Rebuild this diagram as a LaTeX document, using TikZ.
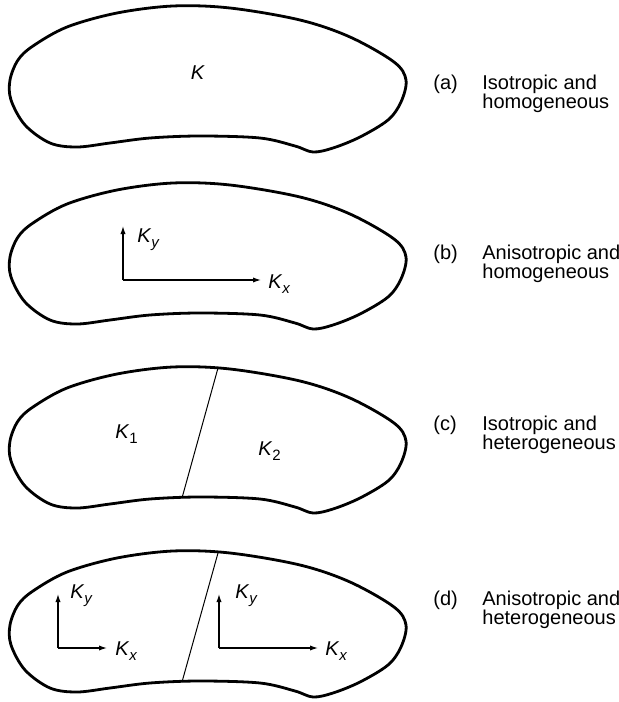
\documentclass[tikz,border=0pt]{standalone}
\usepackage{fontspec}
\setmainfont{Liberation Sans}
\usetikzlibrary{arrows.meta}
\tikzset{
  outline/.style={line width=1.4pt, line join=round},
  split/.style={line width=0.5pt},
  kaxis/.style={line width=0.6pt, -{Latex[length=4pt,width=2.6pt]}},
  klabel/.style={font=\fontsize{10}{11}\selectfont, inner sep=0pt, anchor=base west},
  caselabel/.style={font=\fontsize{10}{9.5}\selectfont, inner sep=0pt, anchor=base west, align=left},
}
\newcommand{\Kperm}[1]{\textit{K}\raisebox{-0.5ex}{\fontsize{7.5}{8}\selectfont #1}}

\begin{document}
\begin{tikzpicture}[x=0.5pt, y=-0.5pt]
  \useasboundingbox (0,0) rectangle (618,702);

  % the same region, four times
  \foreach \dy in {0,177,361,545} {
    \draw[outline, shift={(0,\dy)}] plot[smooth cycle, tension=0.55] coordinates {
      (173,6) (230,8) (300,20) (350,37) (394,62) (406,80) (401,102) (388,120)
      (360,137) (333,148) (313,152) (295,146) (260,138) (200,136) (150,138)
      (110,143) (77,147) (50,143) (25,125) (11,100) (10,80) (18,60) (33,46)
      (67,27) (117,13)};
  }

  % (a)
  \node[klabel, anchor=center] (ka) at (198,73) {\textit{K}};
  \node[caselabel] (taga) at (433,89) {(a)};
  \node[caselabel] (capa) at (482,108) {Isotropic and\\homogeneous};

  % (b)
  \coordinate (ob) at (123,280);
  \coordinate (byt) at (123,226);
  \coordinate (bxt) at (261,280);
  \draw[kaxis] (ob) -- (byt);
  \draw[kaxis] (ob) -- (bxt);
  \node[klabel] (kby) at (137,242) {\Kperm{\textit{y}}};
  \node[klabel] (kbx) at (268,288) {\Kperm{\textit{x}}};
  \node[caselabel] (tagb) at (433,259) {(b)};
  \node[caselabel] (capb) at (482,278) {Anisotropic and\\homogeneous};

  % (c)
  \coordinate (ctop) at (218,368);
  \coordinate (cbot) at (182,498);
  \draw[split] (ctop) -- (cbot);
  \node[klabel] (kc1) at (115,438) {\Kperm{1}};
  \node[klabel] (kc2) at (258,455) {\Kperm{2}};
  \node[caselabel] (tagc) at (433,430) {(c)};
  \node[caselabel] (capc) at (482,449) {Isotropic and\\heterogeneous};

  % (d)
  \coordinate (dtop) at (218,553);
  \coordinate (dbot) at (182,682);
  \draw[split] (dtop) -- (dbot);
  \coordinate (od1) at (58,648);
  \coordinate (dy1) at (58,594);
  \coordinate (dx1) at (107,648);
  \draw[kaxis] (od1) -- (dy1);
  \draw[kaxis] (od1) -- (dx1);
  \node[klabel] (kdy1) at (70,598) {\Kperm{\textit{y}}};
  \node[klabel] (kdx1) at (115,655) {\Kperm{\textit{x}}};
  \coordinate (od2) at (219,648);
  \coordinate (dy2) at (219,594);
  \coordinate (dx2) at (318,648);
  \draw[kaxis] (od2) -- (dy2);
  \draw[kaxis] (od2) -- (dx2);
  \node[klabel] (kdy2) at (235,598) {\Kperm{\textit{y}}};
  \node[klabel] (kdx2) at (325,655) {\Kperm{\textit{x}}};
  \node[caselabel] (tagd) at (433,605) {(d)};
  \node[caselabel] (capd) at (482,624) {Anisotropic and\\heterogeneous};
\end{tikzpicture}
\end{document}
